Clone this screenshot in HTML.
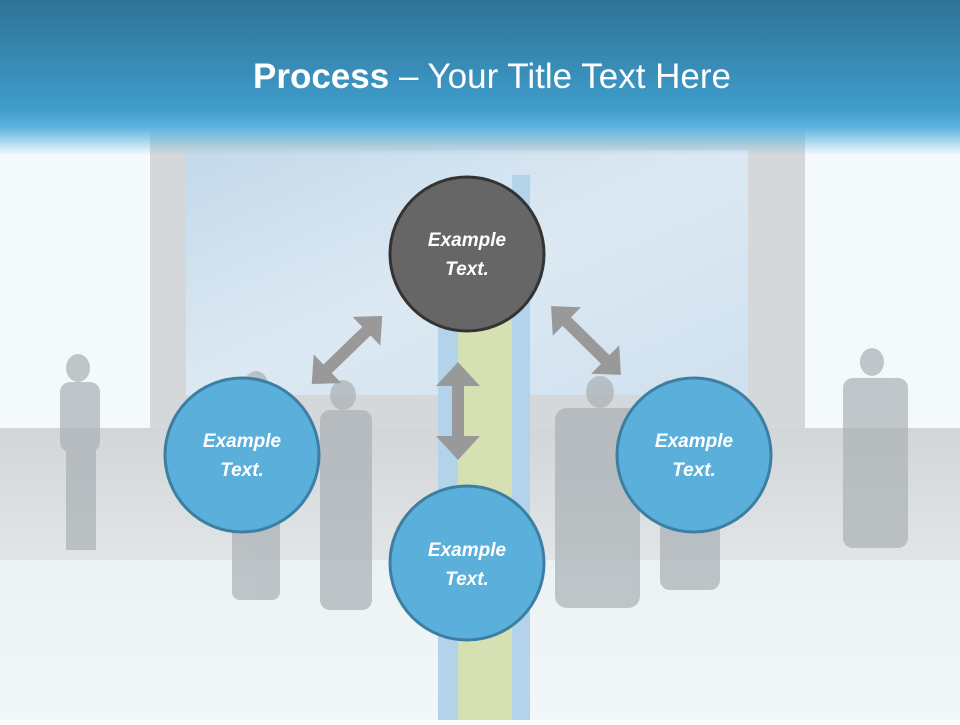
<!DOCTYPE html>
<html><head><meta charset="utf-8"><style>
body{margin:0;width:960px;height:720px;overflow:hidden;font-family:"Liberation Sans",sans-serif}
</style></head><body>
<svg width="960" height="720" viewBox="0 0 960 720" xmlns="http://www.w3.org/2000/svg">
<defs>
<linearGradient id="hdr" x1="0" y1="0" x2="0" y2="1">
<stop offset="0" stop-color="#2e7396"/><stop offset="0.7" stop-color="#3f9ccb"/><stop offset="0.82" stop-color="#5db3dd"/><stop offset="1" stop-color="#5db3dd" stop-opacity="0"/>
</linearGradient>
<linearGradient id="sky" x1="0" y1="0" x2="1" y2="1">
<stop offset="0" stop-color="#c4d9ea"/><stop offset="0.5" stop-color="#dce9f3"/><stop offset="1" stop-color="#cfe0ee"/>
</linearGradient>
<linearGradient id="floor" x1="0" y1="0" x2="0" y2="1">
<stop offset="0" stop-color="#d2d6d8"/><stop offset="1" stop-color="#f2f7fa"/>
</linearGradient>
</defs>
<rect width="960" height="720" fill="#f4f9fc"/>
<rect x="150" y="130" width="655" height="298" fill="#d5d8da"/>
<rect x="186" y="150" width="562" height="245" fill="url(#sky)"/>
<rect x="0" y="428" width="960" height="292" fill="url(#floor)"/>
<rect x="0" y="560" width="960" height="160" fill="#f1f6f9" opacity="0.7"/>
<!-- pole -->
<rect x="438" y="300" width="20" height="420" fill="#b3d3ea"/>
<rect x="512" y="175" width="18" height="545" fill="#b3d3ea"/>
<rect x="458" y="300" width="54" height="420" fill="#d6e1b3"/>
<!-- silhouettes -->
<g fill="#a9b0b4" opacity="0.7">
<ellipse cx="78" cy="368" rx="12" ry="14"/><rect x="60" y="382" width="40" height="70" rx="10"/><rect x="66" y="445" width="30" height="105"/>
<ellipse cx="256" cy="385" rx="12" ry="14"/><rect x="232" y="400" width="48" height="200" rx="8"/>
<ellipse cx="343" cy="395" rx="13" ry="15"/><rect x="320" y="410" width="52" height="200" rx="10"/>
<ellipse cx="600" cy="392" rx="14" ry="16"/><rect x="555" y="408" width="85" height="200" rx="12"/>
<rect x="660" y="380" width="60" height="210" rx="10"/>
<ellipse cx="872" cy="362" rx="12" ry="14"/><rect x="843" y="378" width="65" height="170" rx="10"/>
</g>
<rect x="0" y="0" width="960" height="155" fill="url(#hdr)"/>
<text x="492" y="88" text-anchor="middle" fill="#fff" font-size="35"><tspan font-weight="bold">Process</tspan> – Your Title Text Here</text>
<!-- arrows -->
<g fill="#999">
<polygon points="458,362 480,386 464,386 464,436 480,436 458,460 436,436 452,436 452,386 436,386"/>
<polygon transform="translate(347,350) rotate(-44)" points="-49,0 -27,-20 -27,-6 27,-6 27,-20 49,0 27,20 27,6 -27,6 -27,20"/>
<polygon transform="translate(586,340.5) rotate(44.6)" points="-49,0 -27,-20 -27,-6 27,-6 27,-20 49,0 27,20 27,6 -27,6 -27,20"/>
</g>
<g font-size="19" font-weight="bold" font-style="italic" fill="#fff" text-anchor="middle">
<circle cx="467" cy="254" r="77" fill="#666" stroke="#333" stroke-width="3"/>
<text x="467" y="246">Example</text><text x="467" y="275">Text.</text>
<circle cx="242" cy="455" r="77" fill="#5aafdb" stroke="#3d7ea3" stroke-width="3"/>
<text x="242" y="447">Example</text><text x="242" y="476">Text.</text>
<circle cx="467" cy="563" r="77" fill="#5aafdb" stroke="#3d7ea3" stroke-width="3"/>
<text x="467" y="556">Example</text><text x="467" y="585">Text.</text>
<circle cx="694" cy="455" r="77" fill="#5aafdb" stroke="#3d7ea3" stroke-width="3"/>
<text x="694" y="447">Example</text><text x="694" y="476">Text.</text>
</g>
</svg>
</body></html>
